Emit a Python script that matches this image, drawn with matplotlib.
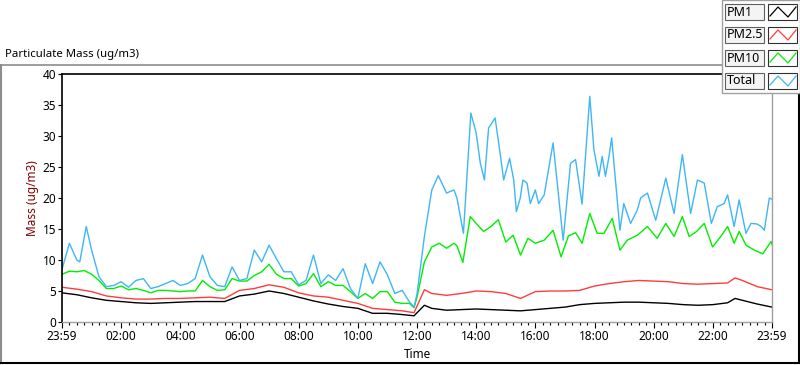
import numpy as np
import matplotlib
matplotlib.use("Agg")
import matplotlib.pyplot as plt
from matplotlib.lines import Line2D
from matplotlib.patches import Rectangle

plt.rcParams['font.family'] = ['Noto Sans', 'DejaVu Sans']

# hours after 23:59
hours_total = [0, 0.25, 0.5, 0.6, 0.82, 1.0, 1.25, 1.5, 1.75, 2.0, 2.25, 2.5, 2.75, 3.0,
               3.25, 3.5, 3.75, 4.0, 4.25, 4.5, 4.75, 5.0, 5.25, 5.5, 5.75, 6.0, 6.25,
               6.5, 6.75, 7.0, 7.25, 7.5, 7.75, 8.0, 8.25, 8.5, 8.75, 9.0, 9.25, 9.5,
               9.75, 10.0, 10.25, 10.5, 10.75, 11.0, 11.25, 11.5, 11.75, 11.9, 12.0,
               12.25, 12.5, 12.72, 13.0, 13.25, 13.35, 13.57, 13.82, 14.0, 14.14, 14.28,
               14.42, 14.64, 14.81, 14.93, 15.13, 15.27, 15.36, 15.49, 15.58, 15.72,
               15.83, 16.0, 16.11, 16.3, 16.6, 16.94, 17.19, 17.36, 17.58, 17.84, 17.98,
               18.15, 18.26, 18.37, 18.49, 18.58, 18.86, 18.99, 19.22, 19.45, 19.56,
               19.79, 20.07, 20.41, 20.69, 20.97, 21.25, 21.48, 21.71, 21.95, 22.15,
               22.38, 22.5, 22.72, 22.89, 23.12, 23.29, 23.5, 23.63, 23.74, 23.91, 24.0]
total = [8.5, 12.7, 10.0, 9.7, 15.4, 11.6, 7.3, 5.7, 5.9, 6.5, 5.6, 6.7, 7.0, 5.4,
         5.7, 6.2, 6.7, 5.9, 6.2, 7.0, 10.8, 7.3, 5.9, 5.7, 8.9, 6.7, 7.0,
         11.6, 9.7, 12.4, 10.2, 8.1, 8.1, 6.0, 6.7, 10.8, 6.2, 7.6, 6.7, 8.6,
         5.4, 3.8, 9.4, 6.2, 9.7, 7.6, 4.6, 5.1, 3.2, 2.4, 4.5,
         13.8, 21.3, 23.6, 20.8, 21.3, 20.0, 14.3, 33.7, 30.5, 25.6, 22.9,
         31.3, 32.9, 27.2, 22.9, 26.4, 22.9, 17.8, 20.0, 22.9, 22.4,
         19.1, 21.3, 19.1, 20.5, 28.9, 13.2, 25.6, 26.2, 19.0, 36.4, 27.8,
         23.5, 26.7, 23.5, 26.7, 29.7, 14.8, 19.1, 15.9, 18.1, 20.0,
         20.8, 16.4, 23.2, 17.5, 27.0, 17.5, 22.9, 22.4, 15.9, 18.6,
         19.1, 20.5, 15.4, 19.7, 14.3, 15.9, 15.8, 15.4, 14.8, 20.0, 19.8]

hours_pm10 = [0, 0.25, 0.5, 0.75, 1.0, 1.25, 1.5, 1.75, 2.0, 2.25, 2.5, 2.75, 3.0, 3.25,
              3.5, 3.75, 4.0, 4.25, 4.5, 4.75, 5.0, 5.25, 5.5, 5.75, 6.0, 6.25, 6.5,
              6.75, 7.0, 7.25, 7.5, 7.75, 8.0, 8.25, 8.5, 8.75, 9.0, 9.25, 9.5, 9.75,
              10.0, 10.25, 10.5, 10.75, 11.0, 11.25, 11.5, 11.75, 11.9, 12.0, 12.25,
              12.5, 12.75, 13.0, 13.25, 13.35, 13.55, 13.8, 14.0, 14.25, 14.5, 14.75,
              15.0, 15.25, 15.5, 15.75, 16.0, 16.3, 16.6, 16.87, 17.12, 17.36, 17.58,
              17.84, 18.09, 18.32, 18.6, 18.86, 19.11, 19.45, 19.79, 20.12, 20.41,
              20.69, 20.97, 21.2, 21.45, 21.71, 21.99, 22.27, 22.5, 22.72, 22.89,
              23.12, 23.4, 23.69, 23.97, 24.0]
pm10 = [7.7, 8.2, 8.1, 8.3, 7.7, 6.7, 5.4, 5.4, 5.8, 5.2, 5.4, 5.1, 4.7, 5.1,
        5.1, 5.0, 4.9, 5.0, 5.0, 6.7, 5.7, 5.1, 5.2, 7.0, 6.6, 6.6, 7.5,
        8.1, 9.3, 7.7, 7.0, 7.0, 5.8, 6.2, 7.8, 5.7, 6.5, 5.9, 5.9, 4.9,
        3.8, 4.6, 3.8, 4.9, 4.9, 3.2, 3.0, 3.0, 2.3, 4.0, 9.7,
        12.1, 12.7, 11.9, 12.7, 12.3, 9.6, 17.0, 15.9, 14.6, 15.4, 16.5,
        12.9, 14.0, 10.8, 13.5, 12.7, 13.2, 14.8, 10.5, 13.9, 14.4, 12.7,
        17.5, 14.3, 14.3, 16.7, 11.6, 13.2, 14.0, 15.4, 13.5, 15.9,
        13.8, 17.0, 13.8, 14.6, 15.9, 12.1, 13.8, 15.4, 12.7, 14.6,
        12.4, 11.6, 11.0, 13.0, 12.5]

# smooth series
hours_pm = [0, 0.5, 1, 1.5, 2, 2.5, 3, 3.5, 4, 4.5, 5, 5.5, 6, 6.5, 7, 7.5, 8,
            8.5, 9, 9.5, 10, 10.5, 11, 11.5, 11.9, 12.25, 12.5, 13, 13.5, 14, 14.5,
            15, 15.5, 16, 16.5, 17, 17.5, 18, 18.5, 19, 19.5, 20, 20.5, 21, 21.5,
            22, 22.5, 22.75, 23, 23.5, 24]
pm25 = [5.6, 5.3, 4.9, 4.2, 3.9, 3.7, 3.7, 3.8, 3.8, 3.9, 4.0, 3.8, 5.1, 5.4, 6.0, 5.6, 4.7,
        4.2, 4.0, 3.5, 3.0, 2.2, 2.0, 1.8, 1.5, 5.2, 4.6, 4.3, 4.6, 5.0, 4.9,
        4.6, 3.8, 4.9, 5.0, 5.0, 5.1, 5.8, 6.2, 6.5, 6.7, 6.6, 6.5, 6.2, 6.1,
        6.2, 6.3, 7.1, 6.7, 5.7, 5.2]
pm1 = [4.7, 4.4, 3.9, 3.5, 3.3, 3.1, 3.0, 3.1, 3.2, 3.3, 3.3, 3.3, 4.2, 4.5, 5.0, 4.6, 4.0,
       3.4, 2.9, 2.5, 2.2, 1.4, 1.4, 1.2, 1.0, 2.7, 2.2, 1.9, 2.0, 2.1, 2.0,
       1.9, 1.8, 2.0, 2.2, 2.4, 2.8, 3.0, 3.1, 3.2, 3.2, 3.1, 3.0, 2.8, 2.7,
       2.8, 3.1, 3.8, 3.5, 2.9, 2.4]

tick_hours = [0, 2, 4, 6, 8, 10, 12, 14, 16, 18, 20, 22, 24]
tick_labels = ['23:59', '02:00', '04:00', '06:00', '08:00', '10:00', '12:00',
               '14:00', '16:00', '18:00', '20:00', '22:00', '23:59']

series_names = ['PM1', 'PM2.5', 'PM10', 'Total']
series_colors = ['#000000', '#ff3c3c', '#00ee00', '#3fb6f5']

W, H = 800, 365
fig = plt.figure(figsize=(8, 3.65), dpi=100)
fig.patch.set_facecolor('white')

ax = fig.add_axes([62 / W, 1 - 322 / H, 710 / W, 248 / H])
ax.plot(hours_pm, pm1, color=series_colors[0], lw=1.0)
ax.plot(hours_pm, pm25, color=series_colors[1], lw=1.0)
ax.plot(hours_pm10, pm10, color=series_colors[2], lw=1.0)
ax.plot(hours_total, total, color=series_colors[3], lw=1.0)

ax.set_xlim(0, 24)
ax.set_ylim(0, 40)
ax.set_yticks(range(0, 41, 5))
ax.set_xticks(tick_hours)
ax.set_xticklabels(tick_labels)
ax.set_xticks(np.arange(0, 24.01, 0.25), minor=True)
ax.tick_params(axis='y', length=3, width=0.8, pad=1, labelsize=8.5, colors='black')
ax.tick_params(axis='x', which='major', length=4, width=0.8, pad=2, labelsize=8.5,
               direction='out')
ax.tick_params(axis='x', which='minor', length=2.2, width=0.8)
ax.tick_params(axis='y', which='minor', left=False)
for s in ['left', 'top']:
    ax.spines[s].set_color('black')
    ax.spines[s].set_linewidth(1.2)
for s in ['right', 'bottom']:
    ax.spines[s].set_color('#a0a0a0')
    ax.spines[s].set_linewidth(1.0)

ax.set_xlabel('Time', fontsize=8.5, labelpad=3)
ax.set_ylabel('Mass (ug/m3)', fontsize=8.5, color='#800000', labelpad=3)

fig.text(5 / W, 1 - 55 / H, 'Particulate Mass (ug/m3)', fontsize=8.2, va='center', ha='left')

# outer frame
gray = '#8c8c8c'
fig.add_artist(Line2D([1 / W, 722 / W], [1 - 65 / H, 1 - 65 / H], color=gray, lw=1.2))
fig.add_artist(Line2D([1 / W, 1 / W], [1 - 65 / H, 1 - 363 / H], color=gray, lw=1.5))
fig.add_artist(Line2D([1 / W, 799 / W], [1 - 363 / H, 1 - 363 / H], color='black', lw=1.5))
fig.add_artist(Line2D([799 / W, 799 / W], [1 - 93 / H, 1 - 363 / H], color='black', lw=1.5))

# legend panel
fig.add_artist(Rectangle((722 / W, 1 - 93 / H), 78 / W, 93 / H, transform=fig.transFigure,
                         facecolor='white', edgecolor='#a0a0a0', lw=1.0, zorder=5))
row_top = [4, 27, 50, 73]
for name, col, top in zip(series_names, series_colors, row_top):
    fig.add_artist(Rectangle((725 / W, 1 - (top + 16) / H), 39 / W, 16 / H,
                             transform=fig.transFigure, facecolor='#f4f4f4',
                             edgecolor='#606060', lw=0.8, zorder=6))
    fig.text(727 / W, 1 - (top + 8) / H, name, fontsize=9, va='center', ha='left',
             zorder=7)
    fig.add_artist(Rectangle((768 / W, 1 - (top + 16) / H), 29 / W, 16 / H,
                             transform=fig.transFigure, facecolor='white',
                             edgecolor='#303030', lw=0.8, zorder=6))
    zx = np.array([770, 778, 788, 796]) / W
    zy = 1 - (top + np.array([12, 3, 13, 3])) / H
    fig.add_artist(Line2D(zx, zy, color=col, lw=0.9, zorder=7))

fig.savefig('out.png', dpi=100)
